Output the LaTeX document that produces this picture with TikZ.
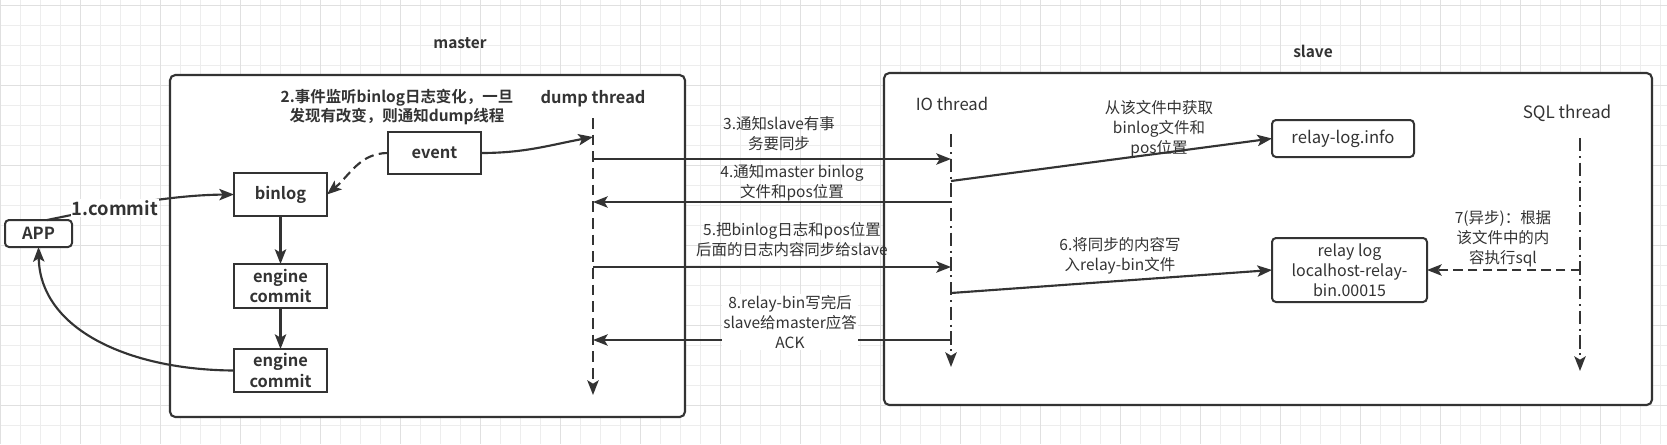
\documentclass[tikz,border=0pt]{standalone}
\usepackage{fontspec}
\setmainfont{Noto Sans CJK SC}[BoldFont={Noto Sans CJK SC Bold}]
\usetikzlibrary{arrows.meta,calc}
\definecolor{ink}{HTML}{333333}
\definecolor{gridminor}{HTML}{EDEDED}
\definecolor{gridmajor}{HTML}{E0E0E0}
\begin{document}
\begin{tikzpicture}[x=0.75pt,y=-0.75pt,
  font=\fontsize{11.6}{15}\selectfont,
  every node/.style={text=ink, inner sep=0pt, outer sep=0pt},
  tip/.style={-{Stealth[length=11pt,width=8.5pt,inset=2.5pt]}},
  conn/.style={draw=ink, line width=1.6pt, tip},
  dconn/.style={draw=ink, line width=1.6pt, tip, dash pattern=on 7pt off 4pt},
  frame/.style={draw=ink, line width=1.6pt, fill=white, rounded corners=4pt},
  sqbox/.style={draw=ink, line width=1.5pt, fill=white, font=\fontsize{12.3}{15.5}\selectfont\bfseries, align=center},
  rbox/.style={draw=ink, line width=1.5pt, fill=white, rounded corners=3pt, align=center, font=\fontsize{12}{15}\selectfont},
  lbl/.style={align=center},
  blbl/.style={align=center, font=\fontsize{11.6}{14.5}\selectfont\bfseries},
  dashline/.style={draw=ink, line width=1.6pt, tip, dash pattern=on 8pt off 4.5pt},
  dashdotline/.style={draw=ink, line width=1.6pt, tip, dash pattern=on 10pt off 3.5pt on 1.5pt off 3.5pt},
]
\useasboundingbox (0,0) rectangle (1667,444);
\fill[white] (0,0) rectangle (1667,444);
% grid
\foreach \x in {0,20,...,1660} \draw[gridminor, line width=0.75pt] (\x,0) -- (\x,444);
\foreach \y in {5,25,...,445} \draw[gridminor, line width=0.75pt] (0,\y) -- (1667,\y);
\foreach \x in {0,80,...,1600} \draw[gridmajor, line width=0.75pt] (\x,0) -- (\x,444);
\foreach \y in {5,85,...,405} \draw[gridmajor, line width=0.75pt] (0,\y) -- (1667,\y);

% frames
\node[frame, minimum width=386.25pt, minimum height=256.5pt] (master) at (427.5,246) {};
\node[frame, minimum width=576pt, minimum height=249pt] (slave) at (1268,239) {};
\node[blbl] (lmaster) at (460,43) {master};
\node[blbl] (lslave) at (1313,51) {slave};

% master side boxes
\node[rbox, font=\fontsize{12.5}{15}\selectfont\bfseries, minimum width=50.25pt, minimum height=20.25pt] (app) at (38.5,233.5) {APP};
\node[sqbox, minimum width=69.75pt, minimum height=32.25pt] (binlog) at (280.5,194.5) {binlog};
\node[sqbox, minimum width=69.75pt, minimum height=33pt] (eng1) at (280.5,286) {engine\\commit};
\node[sqbox, minimum width=69.75pt, minimum height=32.25pt] (eng2) at (280.5,370.5) {engine\\commit};
\node[sqbox, minimum width=69.75pt, minimum height=31.5pt] (event) at (434.5,153) {event};
\node[blbl] (l2) at (397,107) {2.事件监听binlog日志变化，一旦\\发现有改变，则通知dump线程};

% slave side boxes
\node[rbox, minimum width=106.5pt, minimum height=27.75pt, font=\fontsize{12.5}{15}\selectfont] (relayinfo) at (1343,138.5) {relay-log.info};
\node[rbox, minimum width=116.25pt, minimum height=48pt] (relaylog) at (1349.5,270) {relay log\\localhost-relay-\\bin.00015};

% thread titles
\node[blbl, font=\fontsize{12.3}{15}\selectfont\bfseries] (ldump) at (593,99) {dump thread};
\node[font=\fontsize{12.5}{15}\selectfont] (lio) at (952,104) {IO thread};
\node[font=\fontsize{12.8}{15}\selectfont] (lsql) at (1567,113) {SQL thread};

% lifelines
\coordinate (dtop) at (593,118); \coordinate (dbot) at (593,395);
\coordinate (iotop) at (951,134); \coordinate (iobot) at (951,367);
\coordinate (sqltop) at (1580,138); \coordinate (sqlbot) at (1580,371);
\draw[dashline] (dtop) -- (dbot);
\draw[dashdotline] (iotop) -- (iobot);
\draw[dashdotline] (sqltop) -- (sqlbot);

\coordinate (d3) at (593,159); \coordinate (i3) at (951,159);
\coordinate (d4) at (593,202); \coordinate (i4) at (951,202);
\coordinate (d5) at (593,267); \coordinate (i5) at (951,267);
\coordinate (d8) at (593,340); \coordinate (i8) at (951,340);
\coordinate (dev) at (593,137);
\coordinate (iinfo) at (951,181);
\coordinate (ilog) at (951,293);
\coordinate (s7) at (1580,270);

% master internal connectors
\draw[conn] ([xshift=6.4pt]app.north) .. controls (110,207) and (170,195) .. (binlog.west);
\node[blbl, fill=white, inner sep=1pt, font=\fontsize{13.8}{15}\selectfont\bfseries] (l1) at (115,208) {1.commit};
\draw[conn] (eng2.west) .. controls (130,370) and (40,330) .. (app.south);
\draw[conn] (binlog.south) -- (eng1.north);
\draw[conn] (eng1.south) -- (eng2.north);
\draw[dconn] (event.west) .. controls (360,153) and (350,175) .. (binlog.east);
\draw[conn] (event.east) .. controls (525,153) and (550,145) .. (dev);

% messages
\draw[conn] (d3) -- (i3);
\draw[conn] (i4) -- (d4);
\draw[conn] (d5) -- (i5);
\draw[conn] (i8) -- (d8);
\node[lbl] (l3) at (779,134) {3.通知slave有事\\务要同步};
\node[lbl] (l4) at (792,183) {4.通知master binlog\\文件和pos位置};
\node[lbl] (l5) at (792,240) {5.把binlog日志和pos位置\\后面的日志内容同步给slave};
\node[lbl, fill=white, inner sep=1pt] (l8) at (790,322) {8.relay-bin写完后\\slave给master应答\\ACK};

% slave connectors
\draw[conn] (iinfo) -- (relayinfo.west);
\draw[conn] (ilog) -- (relaylog.west);
\draw[dconn] (s7) -- (relaylog.east);
\node[lbl] (linfo) at (1159,129) {从该文件中获取\\binlog文件和\\pos位置};
\node[lbl] (l6) at (1120,256) {6.将同步的内容写\\入relay-bin文件};
\node[lbl] (l7) at (1503,239) {7(异步)：根据\\该文件中的内\\容执行sql};
\end{tikzpicture}
\end{document}
